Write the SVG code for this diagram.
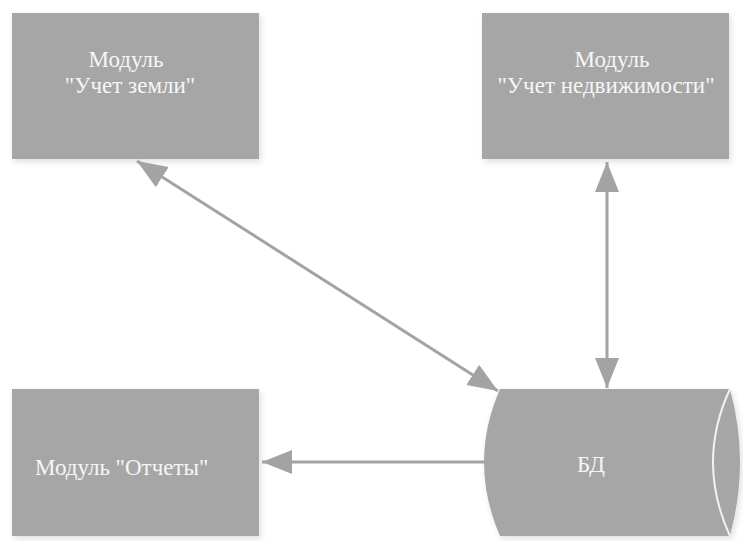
<svg xmlns="http://www.w3.org/2000/svg" width="743" height="541" viewBox="0 0 743 541">
<defs>
<style>
.node{fill:#a6a6a6;}
.lbl{font-family:"Liberation Serif","Times New Roman",serif;font-size:23px;fill:#f6f6f6;}
.conn{stroke:#a3a3a3;stroke-width:3;fill:none;}
</style>
<filter id="sh" x="-10%" y="-10%" width="125%" height="125%">
<feDropShadow dx="2" dy="3" stdDeviation="3" flood-color="#000" flood-opacity="0.12"/>
</filter>
<marker id="ah" markerUnits="userSpaceOnUse" markerWidth="32" markerHeight="26" refX="30" refY="12" orient="auto-start-reverse">
<path d="M0,0 L30,12 L0,24 z" fill="#a3a3a3"/>
</marker>
</defs>
<rect width="743" height="541" fill="#ffffff"/>
<g id="n1">
<rect class="node" x="12" y="13" width="247" height="146" filter="url(#sh)"/>
<text class="lbl" x="126" y="67" text-anchor="middle">Модуль</text>
<text class="lbl" x="130" y="93" text-anchor="middle">"Учет земли"</text>
</g>
<g id="n2">
<rect class="node" x="482" y="13" width="247" height="146" filter="url(#sh)"/>
<text class="lbl" x="612" y="67" text-anchor="middle">Модуль</text>
<text class="lbl" x="606" y="93" text-anchor="middle">"Учет недвижимости"</text>
</g>
<g id="n3">
<rect class="node" x="12" y="389" width="247" height="147" filter="url(#sh)"/>
<text class="lbl" x="35" y="475">Модуль "Отчеты"</text>
</g>
<g id="db">
<path class="node" d="M500,389 L730,389 Q750,462 730,536 L500,536 Q468,462 500,389 z" filter="url(#sh)"/>
<path d="M730,389 Q696,462 730,536" fill="none" stroke="#f2f2f2" stroke-width="2"/>
<text class="lbl" x="591" y="472" text-anchor="middle">БД</text>
</g>
<g id="connectors">
<line class="conn" x1="137" y1="161" x2="498" y2="391" marker-start="url(#ah)" marker-end="url(#ah)"/>
<line class="conn" x1="607" y1="162" x2="607" y2="388" marker-start="url(#ah)" marker-end="url(#ah)"/>
<line class="conn" x1="484" y1="462" x2="262" y2="462" marker-end="url(#ah)"/>
</g>
</svg>
